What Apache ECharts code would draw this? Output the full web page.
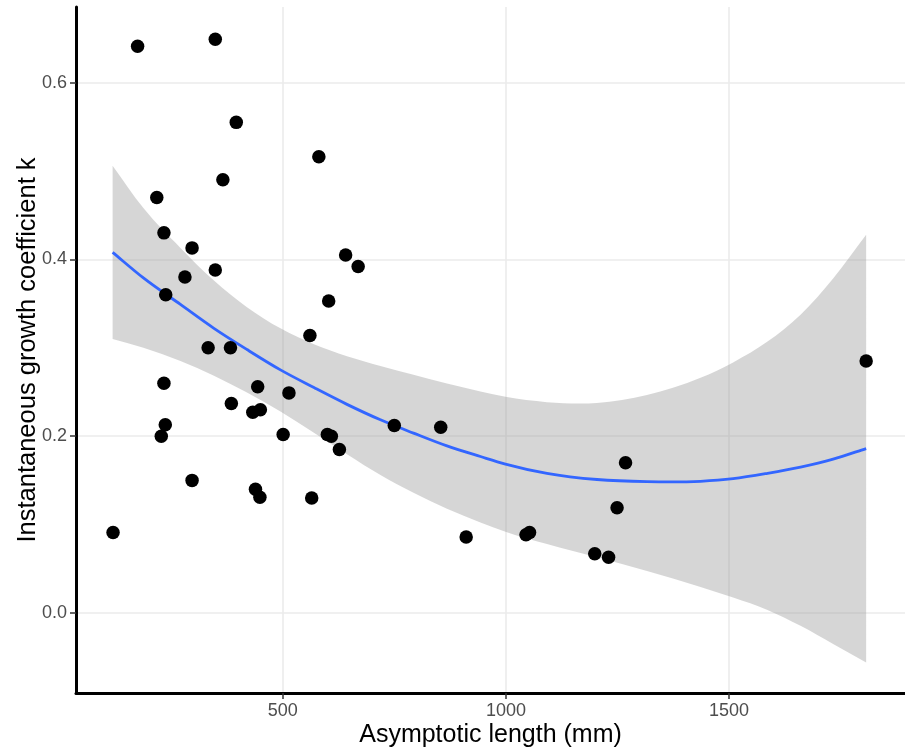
<!DOCTYPE html>
<html>
<head>
<meta charset="utf-8">
<script src="https://cdn.jsdelivr.net/npm/echarts@6/dist/echarts.min.js"></script>
<style>
  html, body { margin: 0; padding: 0; background: #fff; }
  #chart { width: 905px; height: 748px; }
</style>
</head>
<body>
<div id="chart"></div>
<script>
// one point per species: asymptotic length (mm) vs growth coefficient k
const lengthMm = [120, 175, 349, 396, 366, 581, 218, 234, 297, 349, 281, 238,
  641, 669, 603, 561, 333, 383, 234, 444, 514, 385, 433, 450, 237, 228, 501,
  600, 609, 627, 750, 854, 297, 439, 449, 565, 911, 1045, 1053, 1199, 1230,
  1249, 1268, 1807];
const kValues = [0.091, 0.641, 0.649, 0.555, 0.490, 0.516, 0.470, 0.430, 0.413,
  0.388, 0.380, 0.360, 0.405, 0.392, 0.353, 0.314, 0.300, 0.300, 0.260, 0.256,
  0.249, 0.237, 0.227, 0.230, 0.213, 0.200, 0.202, 0.202, 0.200, 0.185, 0.212,
  0.210, 0.150, 0.140, 0.131, 0.130, 0.086, 0.0885, 0.091, 0.067, 0.063, 0.119,
  0.170, 0.285];

// fitted curve + confidence band
const fitX = [119, 188, 271, 346, 420, 495, 570, 644, 719, 793, 868, 943, 999,
  1092, 1204, 1316, 1436, 1509, 1586, 1660, 1733, 1807];
const fitY = [0.408, 0.379, 0.349, 0.322, 0.298, 0.275, 0.255, 0.236, 0.2185,
  0.2035, 0.189, 0.177, 0.1685, 0.158, 0.151, 0.1485, 0.149, 0.152, 0.158, 0.165,
  0.174, 0.186];
const bandLow = [0.310, 0.300, 0.285, 0.2685, 0.2495, 0.228, 0.204, 0.1795, 0.156,
  0.136, 0.118, 0.1025, 0.092, 0.078, 0.063, 0.0475, 0.0295, 0.0175, 0.0035,
  -0.0145, -0.035, -0.056];
const bandHigh = [0.506, 0.458, 0.413, 0.376, 0.346, 0.322, 0.304, 0.2905, 0.2795,
  0.2695, 0.2595, 0.2505, 0.2445, 0.2385, 0.2375, 0.2465, 0.266, 0.2835, 0.307,
  0.3375, 0.3785, 0.428];

const xTicks = [500, 1000, 1500];
const yTicks = [0, 0.2, 0.4, 0.6];

const font = 'Liberation Sans, Arial, Helvetica, sans-serif';
const chart = echarts.init(document.getElementById('chart'));

// smooth cubic through pixel points (x is monotone), returns "C ..." segments
function curveSegs(p) {
  const n = p.length;
  const m = p.map((pt, i) => {
    if (i === 0) return (p[1][1] - p[0][1]) / (p[1][0] - p[0][0]);
    if (i === n - 1) return (p[n - 1][1] - p[n - 2][1]) / (p[n - 1][0] - p[n - 2][0]);
    const h0 = p[i][0] - p[i - 1][0], h1 = p[i + 1][0] - p[i][0];
    const s0 = (p[i][1] - p[i - 1][1]) / h0, s1 = (p[i + 1][1] - p[i][1]) / h1;
    return (s0 * h1 + s1 * h0) / (h0 + h1);
  });
  let d = '';
  for (let i = 0; i < n - 1; i++) {
    const h = (p[i + 1][0] - p[i][0]) / 3;
    d += ' C' + (p[i][0] + h) + ',' + (p[i][1] + m[i] * h) + ' ' +
      (p[i + 1][0] - h) + ',' + (p[i + 1][1] - m[i + 1] * h) + ' ' +
      p[i + 1][0] + ',' + p[i + 1][1];
  }
  return d;
}

function renderBand(params, api) {
  if (params.dataIndex !== 0) return null;
  const top = fitX.map((x, i) => api.coord([x, bandHigh[i]]));
  const bottom = fitX.map((x, i) => api.coord([x, bandLow[i]])).reverse();
  const d = 'M' + top[0][0] + ',' + top[0][1] + curveSegs(top) +
    ' L' + bottom[0][0] + ',' + bottom[0][1] + curveSegs(bottom) + ' Z';
  return {
    type: 'path',
    shape: { pathData: d },
    style: { fill: 'rgba(153,153,153,0.4)' },
    silent: true
  };
}

function renderFit(params, api) {
  if (params.dataIndex !== 0) return null;
  const pts = fitX.map((x, i) => api.coord([x, fitY[i]]));
  const d = 'M' + pts[0][0] + ',' + pts[0][1] + curveSegs(pts);
  return {
    type: 'path',
    shape: { pathData: d },
    style: { fill: 'none', stroke: '#3366FF', lineWidth: 2.8 },
    silent: true
  };
}

const axisCommon = {
  type: 'value',
  axisLine: { show: true, onZero: false, lineStyle: { color: '#000', width: 3 } },
  axisTick: { show: true, length: 6, lineStyle: { color: '#333', width: 1.5 } },
  splitLine: { show: true, lineStyle: { color: '#ebebeb', width: 1.6 } },
  nameLocation: 'middle',
  nameMoveOverlap: false,
  nameTextStyle: { color: '#000', fontSize: 25, fontFamily: font }
};

const option = {
  animation: false,
  backgroundColor: '#fff',
  grid: { left: 76, right: 0, top: 7, bottom: 55, outerBoundsMode: 'none' },
  xAxis: {
    ...axisCommon,
    min: 37,
    max: 1894,
    name: 'Asymptotic length (mm)',
    nameGap: 30,
    axisTick: { ...axisCommon.axisTick, customValues: xTicks },
    axisLabel: {
      customValues: xTicks, color: '#4d4d4d', fontSize: 18, margin: 9, fontFamily: font,
      formatter: v => String(v)
    }
  },
  yAxis: {
    ...axisCommon,
    min: -0.0905,
    max: 0.6855,
    name: 'Instantaneous growth coefficient k',
    nameGap: 35,
    nameTextStyle: { color: '#000', fontSize: 25.5, fontFamily: font },
    axisTick: { ...axisCommon.axisTick, customValues: yTicks },
    axisLabel: {
      customValues: yTicks, color: '#4d4d4d', fontSize: 18, margin: 9, fontFamily: font,
      formatter: v => v.toFixed(1)
    }
  },
  series: [
    {
      type: 'custom',
      renderItem: renderBand,
      data: fitX.map((x, i) => [x, bandLow[i], bandHigh[i]]),
      encode: { x: 0, y: [1, 2] },
      z: 2
    },
    {
      type: 'custom',
      renderItem: renderFit,
      data: fitX.map((x, i) => [x, fitY[i]]),
      encode: { x: 0, y: 1 },
      z: 3
    },
    {
      type: 'scatter',
      data: lengthMm.map((x, i) => [x, kValues[i]]),
      symbolSize: 13.5,
      itemStyle: { color: '#000', opacity: 1 },
      z: 4
    }
  ]
};

chart.setOption(option);
</script>
</body>
</html>
